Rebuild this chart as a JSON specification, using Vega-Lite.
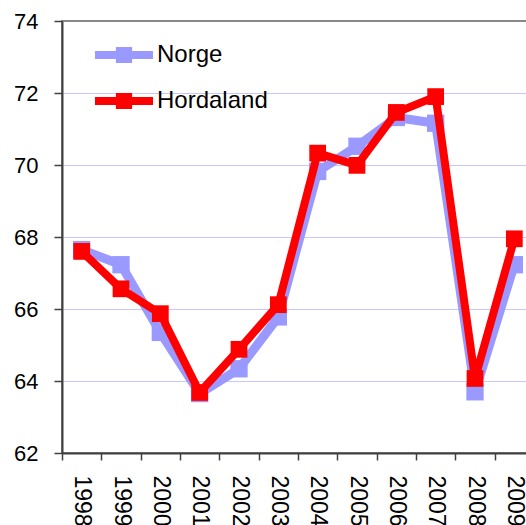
{
  "$schema": "https://vega.github.io/schema/vega-lite/v6.json",
  "width": 472,
  "height": 432,
  "autosize": {"type": "none"},
  "padding": {"left": 62, "top": 21, "right": 0, "bottom": 72},
  "background": "white",
  "config": {
    "view": {"stroke": "#888888", "strokeWidth": 2},
    "font": "Liberation Sans"
  },
  "data": {
    "values": [
      {"series": "Norge", "year": "1998", "value": 67.65},
      {"series": "Norge", "year": "1999", "value": 67.23},
      {"series": "Norge", "year": "2000", "value": 65.35},
      {"series": "Norge", "year": "2001", "value": 63.65},
      {"series": "Norge", "year": "2002", "value": 64.34},
      {"series": "Norge", "year": "2003", "value": 65.78},
      {"series": "Norge", "year": "2004", "value": 69.82},
      {"series": "Norge", "year": "2005", "value": 70.52},
      {"series": "Norge", "year": "2006", "value": 71.32},
      {"series": "Norge", "year": "2007", "value": 71.16},
      {"series": "Norge", "year": "2008", "value": 63.7},
      {"series": "Norge", "year": "2009", "value": 67.23},
      {"series": "Hordaland", "year": "1998", "value": 67.6},
      {"series": "Hordaland", "year": "1999", "value": 66.56},
      {"series": "Hordaland", "year": "2000", "value": 65.87},
      {"series": "Hordaland", "year": "2001", "value": 63.68},
      {"series": "Hordaland", "year": "2002", "value": 64.88},
      {"series": "Hordaland", "year": "2003", "value": 66.12},
      {"series": "Hordaland", "year": "2004", "value": 70.33},
      {"series": "Hordaland", "year": "2005", "value": 69.99},
      {"series": "Hordaland", "year": "2006", "value": 71.46},
      {"series": "Hordaland", "year": "2007", "value": 71.9},
      {"series": "Hordaland", "year": "2008", "value": 64.07},
      {"series": "Hordaland", "year": "2009", "value": 67.95}
    ]
  },
  "encoding": {
    "x": {
      "field": "year", "type": "ordinal",
      "scale": {"paddingInner": 0, "paddingOuter": 0},
      "axis": {
        "title": null, "labelAngle": 90, "labelAlign": "left", "labelBaseline": "middle",
        "labelFont": "Liberation Sans", "labelFontSize": 23, "labelColor": "black",
        "labelPadding": 15, "tickBand": "extent", "tickSize": 7, "tickWidth": 1.5,
        "tickColor": "#404040", "domainColor": "#404040", "domainWidth": 2, "grid": false
      }
    },
    "y": {
      "field": "value", "type": "quantitative",
      "scale": {"domain": [62, 74], "nice": false, "zero": false},
      "axis": {
        "title": null, "values": [62, 64, 66, 68, 70, 72, 74], "tickSize": 8, "tickWidth": 1.5,
        "labelFont": "Liberation Sans", "labelFontSize": 22, "labelColor": "black",
        "tickColor": "#404040", "domainColor": "#404040", "domainWidth": 2,
        "labelPadding": 16, "labelAlign": "right", "grid": true, "gridWidth": 1.2,
        "gridColor": {"condition": {"test": "datum.value >= 74", "value": "#888888"}, "value": "#C8C8F8"},
        "gridOpacity": 1
      }
    },
    "color": {
      "field": "series", "type": "nominal",
      "scale": {"domain": ["Norge", "Hordaland"], "range": ["#9999FF", "#FF0000"]},
      "legend": {
        "title": null, "orient": "none", "legendX": 33, "legendY": 5,
        "symbolType": "M-1,-0.14L1,-0.14L1,0.14L-1,0.14Z M-0.28,-0.28L0.28,-0.28L0.28,0.28L-0.28,0.28Z",
        "symbolSize": 3364, "symbolStrokeWidth": 0, "symbolOpacity": 1,
        "labelFontSize": 24, "labelFont": "Liberation Sans", "labelColor": "black",
        "labelOffset": 4, "rowPadding": 5
      }
    }
  },
  "layer": [
    {
      "transform": [{"filter": "datum.series == 'Norge'"}],
      "mark": {"type": "line", "strokeWidth": 9, "point": {"filled": true, "shape": "square", "size": 300, "opacity": 1}}
    },
    {
      "transform": [{"filter": "datum.series == 'Hordaland'"}],
      "mark": {"type": "line", "strokeWidth": 8, "point": {"filled": true, "shape": "square", "size": 280, "opacity": 1}}
    }
  ]
}
